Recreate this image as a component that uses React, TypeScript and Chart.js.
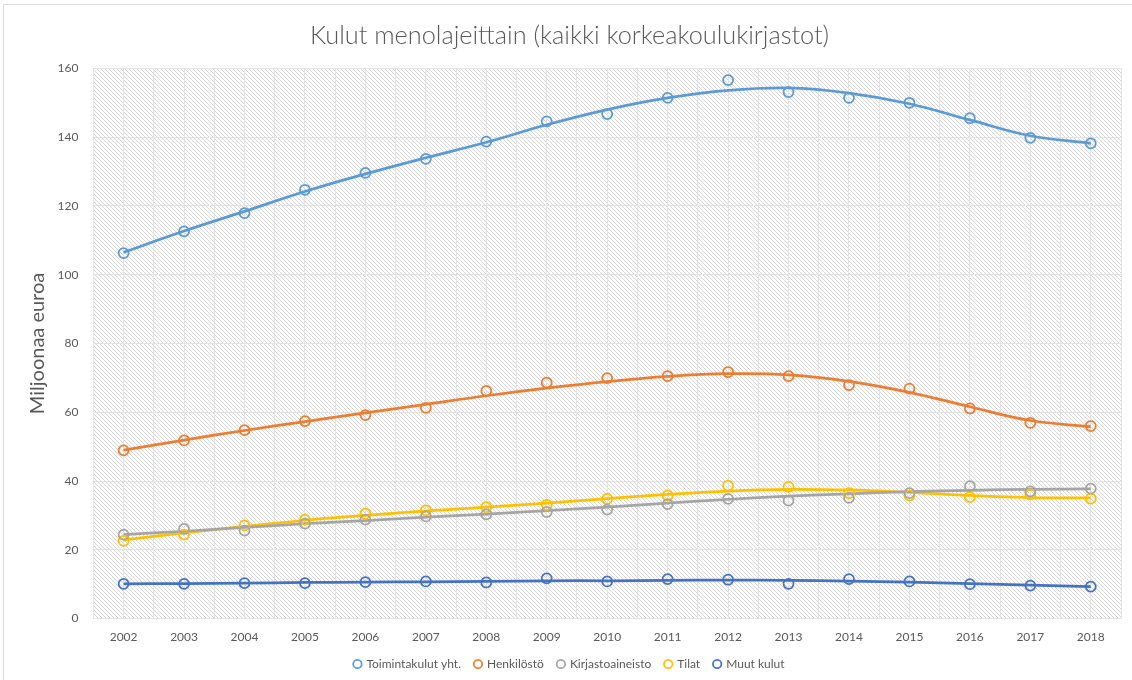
import React, { useEffect, useRef } from "react";
import { Chart, registerables } from "chart.js";

Chart.register(...registerables);

const years = [2002, 2003, 2004, 2005, 2006, 2007, 2008, 2009, 2010, 2011, 2012, 2013, 2014, 2015, 2016, 2017, 2018];

const seriesNames = ["Toimintakulut yht.", "Henkilöstö", "Kirjastoaineisto", "Tilat", "Muut kulut"];
const seriesColors = ["#5B9BD5", "#ED7D31", "#A5A5A5", "#FFC000", "#4472C4"];

// observed values (million euros)
const toimintakulut = [106.3, 112.6, 117.9, 124.7, 129.6, 133.7, 138.7, 144.6, 146.7, 151.4, 156.6, 153.1, 151.4, 150.0, 145.5, 139.8, 138.2];
const henkilosto = [48.9, 51.8, 54.8, 57.4, 59.2, 61.3, 66.2, 68.6, 69.9, 70.5, 71.7, 70.5, 67.9, 66.9, 61.1, 56.9, 56.0];
const kirjastoaineisto = [24.4, 26.1, 25.6, 27.6, 28.8, 29.7, 30.3, 31.0, 31.7, 33.3, 34.8, 34.3, 35.1, 36.5, 38.5, 37.0, 37.8];
const tilat = [22.6, 24.4, 27.1, 28.8, 30.5, 31.5, 32.4, 33.1, 34.8, 35.8, 38.7, 38.3, 36.5, 35.8, 35.3, 36.1, 34.9];
const muutKulut = [10.1, 10.1, 10.3, 10.3, 10.6, 10.8, 10.5, 11.7, 10.8, 11.5, 11.3, 10.1, 11.5, 10.8, 10.0, 9.6, 9.3];

// trendline values read at each year
const trendToimintakulut = [106.5, 112.7, 118.4, 124.2, 129.3, 134.0, 138.5, 143.6, 148.0, 151.4, 153.6, 154.3, 152.8, 149.7, 145.0, 140.4, 138.2];
const trendHenkilosto = [49.0, 51.9, 54.7, 57.3, 59.8, 62.3, 64.8, 67.0, 68.9, 70.4, 71.2, 70.9, 69.0, 65.8, 61.6, 57.6, 55.8];
const trendKirjastoaineisto = [24.4, 25.4, 26.5, 27.6, 28.5, 29.5, 30.4, 31.4, 32.4, 33.6, 34.7, 35.6, 36.3, 36.9, 37.3, 37.6, 37.7];
const trendTilat = [22.9, 24.9, 26.8, 28.6, 30.0, 31.3, 32.4, 33.6, 34.9, 36.1, 37.1, 37.6, 37.4, 36.7, 35.8, 35.2, 35.1];
const trendMuutKulut = [10.1, 10.2, 10.3, 10.5, 10.6, 10.7, 10.8, 11.0, 11.0, 11.1, 11.2, 11.1, 10.9, 10.6, 10.2, 9.7, 9.3];

const yTicks = { min: 0, max: 160, step: 20 };

const FONT = "Lato, 'Open Sans', sans-serif";
const TEXT = "#595959";

function makeHatch(): CanvasPattern | string {
  const c = document.createElement("canvas");
  c.width = 4;
  c.height = 4;
  const g = c.getContext("2d");
  if (!g) return "#eeeeee";
  g.fillStyle = "#ffffff";
  g.fillRect(0, 0, 4, 4);
  g.fillStyle = "#d6d6d6";
  for (let i = 0; i < 4; i++) g.fillRect(i, i, 1, 1);
  const p = g.createPattern(c, "repeat");
  return p || "#eeeeee";
}

const hatchPlugin = {
  id: "hatchBg",
  beforeDraw(chart: any) {
    const { ctx, chartArea } = chart;
    if (!chartArea) return;
    ctx.save();
    ctx.fillStyle = makeHatch();
    ctx.fillRect(chartArea.left, chartArea.top, chartArea.right - chartArea.left, chartArea.bottom - chartArea.top);
    ctx.restore();
  },
};

export default function App() {
  const ref = useRef<HTMLCanvasElement | null>(null);

  useEffect(() => {
    document.body.style.margin = "0";
    const canvas = ref.current;
    if (!canvas) return;
    const observed = [toimintakulut, henkilosto, kirjastoaineisto, tilat, muutKulut];
    const trends = [trendToimintakulut, trendHenkilosto, trendKirjastoaineisto, trendTilat, trendMuutKulut];

    const pointSets = observed.map((arr, i) => ({
      type: "scatter" as const,
      label: seriesNames[i],
      data: arr.map((v, j) => ({ x: years[j], y: v })),
      showLine: false,
      borderColor: seriesColors[i],
      backgroundColor: "rgba(0,0,0,0)",
      pointBorderColor: seriesColors[i],
      pointBackgroundColor: "rgba(0,0,0,0)",
      pointRadius: 5,
      pointBorderWidth: 1.75,
      borderWidth: 2,
      pointStyle: "circle",
    }));
    const trendSets = trends.map((arr, i) => ({
      type: "line" as const,
      label: seriesNames[i] + " trend",
      data: arr.map((v, j) => ({ x: years[j], y: v })),
      borderColor: seriesColors[i],
      backgroundColor: seriesColors[i],
      borderWidth: 2.75,
      pointRadius: 0,
      tension: 0.4,
      fill: false,
    }));

    const chart = new Chart(canvas, {
      type: "scatter",
      data: { datasets: [...pointSets, ...trendSets] as any },
      plugins: [hatchPlugin],
      options: {
        responsive: false,
        animation: false,
        layout: { padding: { top: 17, left: 12, right: 5, bottom: 0 } },
        plugins: {
          title: {
            display: true,
            text: "Kulut menolajeittain (kaikki korkeakoulukirjastot)",
            color: TEXT,
            font: { family: FONT, size: 25.3, weight: 300 as any },
            padding: { top: 4, bottom: 17 },
          },
          legend: {
            position: "bottom",
            labels: {
              filter: (item: any) => item.datasetIndex < 5,
              usePointStyle: true,
              boxWidth: 6,
              boxHeight: 6,
              padding: 14,
              color: TEXT,
              font: { family: FONT, size: 12 },
            },
          },
          tooltip: { enabled: false },
        },
        scales: {
          x: {
            type: "linear",
            min: years[0] - 0.5,
            max: years[years.length - 1] + 0.5,
            afterFit: (s: any) => {
              s.height = s.height - 11;
            },
            ticks: {
              stepSize: 0.5,
              autoSkip: false,
              maxRotation: 0,
              color: TEXT,
              font: { family: FONT, size: 12 },
              padding: 11,
              callback: (v: any) => (Number.isInteger(Number(v)) ? String(v) : ""),
            },
            grid: { color: "#e4e4e4", lineWidth: 1, drawTicks: false },
            border: { display: false },
          },
          y: {
            min: yTicks.min,
            max: yTicks.max,
            ticks: {
              stepSize: yTicks.step,
              color: TEXT,
              font: { family: FONT, size: 12 },
              padding: 15,
            },
            grid: { color: "#e4e4e4", lineWidth: 1, drawTicks: false },
            border: { display: false },
            title: {
              display: true,
              text: "Miljoonaa euroa",
              color: TEXT,
              font: { family: FONT, size: 20 },
              padding: { top: 14, bottom: -7.5 },
            },
          },
        },
      } as any,
    });
    return () => chart.destroy();
  }, []);

  return (
    <div style={{ position: "relative", width: 1132, height: 680, overflow: "hidden", background: "#fff" }}>
      <canvas ref={ref} width={1132} height={680} style={{ position: "absolute", left: 0, top: 0 }} />
      <div
        style={{
          position: "absolute",
          left: 3,
          top: 4,
          width: 1200,
          height: 800,
          border: "1px solid #d9d9d9",
          pointerEvents: "none",
        }}
      />
    </div>
  );
}
